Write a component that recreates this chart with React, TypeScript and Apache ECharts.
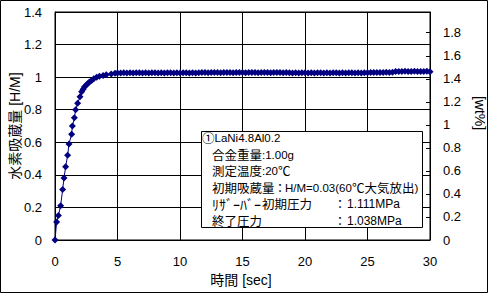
import React, { useEffect, useRef } from "react";
import * as echarts from "echarts";

// Rising part of the absorption curve
const riseTime = [0, 0.13, 0.27, 0.45, 0.61, 0.72, 0.85, 1.01, 1.12, 1.33, 1.39, 1.55, 1.65, 1.81, 2.0, 2.13, 2.25, 2.35, 2.48, 2.61, 2.75, 2.93, 3.1, 3.33, 3.55, 3.85, 4.1, 4.5, 4.8];
const riseHM = [0, 0.11, 0.15, 0.21, 0.31, 0.38, 0.45, 0.52, 0.59, 0.65, 0.7, 0.75, 0.8, 0.84, 0.88, 0.91, 0.925, 0.94, 0.95, 0.96, 0.97, 0.98, 0.99, 1.0, 1.005, 1.01, 1.015, 1.02, 1.024];

// Plateau part (sec)
const plateauTime = [5, 5.25, 5.5, 5.75, 6, 6.25, 6.5, 6.75, 7, 7.25, 7.5, 7.75, 8, 8.25, 8.5, 8.75, 9, 9.25, 9.5, 9.75, 10, 10.25, 10.5, 10.75, 11, 11.25, 11.5, 11.75, 12, 12.25, 12.5, 12.75, 13, 13.25, 13.5, 13.75, 14, 14.25, 14.5, 14.75, 15, 15.25, 15.5, 15.75, 16, 16.25, 16.5, 16.75, 17, 17.25, 17.5, 17.75, 18, 18.25, 18.5, 18.75, 19, 19.25, 19.5, 19.75, 20, 20.25, 20.5, 20.75, 21, 21.25, 21.5, 21.75, 22, 22.25, 22.5, 22.75, 23, 23.25, 23.5, 23.75, 24, 24.25, 24.5, 24.75, 25, 25.25, 25.5, 25.75, 26, 26.25, 26.5, 26.75, 27, 27.25, 27.5, 27.75, 28, 28.25, 28.5, 28.75, 29, 29.25, 29.5, 29.75, 30];
const plateauHM = [
  1.025, 1.026, 1.027, 1.026, 1.027, 1.026, 1.027, 1.027, 1.026, 1.027, 1.026, 1.027, 1.027, 1.026, 1.027, 1.026, 1.027, 1.027, 1.026, 1.027, 1.026, 1.027, 1.027, 1.026, 1.027, 1.026, 1.027,
  1.028, 1.028, 1.027, 1.028, 1.028, 1.028, 1.027, 1.028, 1.028, 1.028, 1.027, 1.028, 1.028, 1.028, 1.027, 1.028, 1.028, 1.028, 1.027, 1.028, 1.028, 1.028, 1.027, 1.028, 1.028, 1.028, 1.027, 1.028,
  1.027, 1.026, 1.027, 1.026, 1.027, 1.027, 1.026, 1.027, 1.026, 1.027, 1.027, 1.026, 1.027, 1.026, 1.027, 1.027, 1.026, 1.027, 1.026, 1.027, 1.027, 1.026, 1.027, 1.026, 1.027, 1.027,
  1.028, 1.029, 1.028, 1.029, 1.029, 1.03, 1.029, 1.03,
  1.034, 1.035, 1.034, 1.036, 1.035, 1.034, 1.036, 1.035, 1.034, 1.035, 1.036, 1.033,
];

const xTitle = "時間 [sec]";
const yLeftTitle = "水素吸蔵量 [H/M]";
const yRightTitle = "[wt%]";
const leftMax = 1.4;
const rightMax = 1.98;

const NUM_FONT = '"Liberation Sans", "Noto Sans CJK JP", sans-serif';
const CJK_FONT = '"Noto Sans CJK JP", sans-serif';

// Annotation box text pieces: [text, x, y, fontSize, cjk?, align]
const notePieces: [string, number, number, number, boolean, string][] = [
  ["①", 202, 137.5, 12.5, true, "left"],
  ["LaNi4.8Al0.2", 214.5, 138, 11.5, false, "left"],
  ["合金重量", 212, 154, 12.5, true, "left"],
  [":1.00g", 262, 154.5, 11.5, false, "left"],
  ["測定温度", 212, 170.5, 12.5, true, "left"],
  [":20", 262, 171, 11.5, false, "left"],
  ["℃", 278, 170.5, 12.5, true, "left"],
  ["初期吸蔵量", 212, 187, 12.5, true, "left"],
  ["：", 280, 187, 12.5, true, "center"],
  ["H/M=0.03(60", 285, 187.5, 11.5, false, "left"],
  ["℃大気放出", 352, 187, 12.5, true, "left"],
  [")", 414.5, 187.5, 11.5, false, "left"],
  ["ﾘｻﾞｰﾊﾞｰ", 212, 203.5, 14, true, "left"],
  ["初期圧力", 262, 203.5, 12.5, true, "left"],
  ["：", 340, 203.5, 12.5, true, "center"],
  ["1.111MPa", 347, 204, 12, false, "left"],
  ["終了圧力", 212, 220, 12.5, true, "left"],
  ["：", 340, 220, 12.5, true, "center"],
  ["1.038MPa", 347, 220.5, 12, false, "left"],
];

export default function App() {
  const ref = useRef<HTMLDivElement>(null);
  useEffect(() => {
    if (!ref.current) return;
    const chart = echarts.init(ref.current, null, { renderer: "svg" });
    const data = riseTime.map((t, i) => [t, riseHM[i]]).concat(plateauTime.map((t, i) => [t, plateauHM[i]]));

    const graphics: any[] = [
      { type: "rect", z: 100, shape: { x: 0.5, y: 0.5, width: 487, height: 292 }, style: { fill: "none", stroke: "#000", lineWidth: 1 } },
      { type: "rect", z: 100, shape: { x: 201.5, y: 131.5, width: 221, height: 96 }, style: { fill: "#fff", stroke: "#000", lineWidth: 1 } },
      { type: "text", z: 101, x: 15, y: 126, rotation: Math.PI / 2, style: { text: yLeftTitle, fontSize: 14, fontFamily: NUM_FONT, fill: "#000", textAlign: "center", textVerticalAlign: "middle" } },
      { type: "text", z: 101, x: 480, y: 113, rotation: -Math.PI / 2, style: { text: yRightTitle, fontSize: 14, fontFamily: NUM_FONT, fill: "#000", textAlign: "center", textVerticalAlign: "middle" } },
      { type: "text", z: 101, x: 241, y: 280, style: { text: xTitle, fontSize: 14, fontFamily: NUM_FONT, fill: "#000", textAlign: "center", textVerticalAlign: "middle" } },
    ];
    notePieces.forEach(([text, x, y, size, cjk, align]) => {
      graphics.push({
        type: "text", z: 101, x, y,
        style: { text, fontSize: size, fontFamily: cjk ? CJK_FONT : NUM_FONT, fill: "#000", textAlign: align, textVerticalAlign: "middle" },
      });
    });

    chart.setOption({
      animation: false,
      backgroundColor: "#fff",
      grid: { left: 55, right: 70, top: 12, bottom: 60, show: true, borderColor: "#000", borderWidth: 1, backgroundColor: "#fff" },
      xAxis: {
        type: "value", min: 0, max: 30, interval: 5,
        axisLine: { show: true, lineStyle: { color: "#000", width: 1 } },
        axisTick: { show: false },
        splitLine: { show: true, lineStyle: { color: "#000", width: 1 } },
        axisLabel: { color: "#000", fontSize: 13, fontFamily: NUM_FONT, margin: 15 },
      },
      yAxis: [
        {
          type: "value", min: 0, max: leftMax, interval: 0.2, position: "left",
          axisLine: { show: true, lineStyle: { color: "#000", width: 1 } },
          axisTick: { show: false },
          splitLine: { show: true, lineStyle: { color: "#000", width: 1 } },
          axisLabel: { color: "#000", fontSize: 13, fontFamily: NUM_FONT, margin: 13 },
        },
        {
          type: "value", min: 0, max: rightMax, interval: 0.2, position: "right",
          axisLine: { show: true, lineStyle: { color: "#000", width: 1 } },
          axisTick: { show: true, inside: true, length: 4, lineStyle: { color: "#000", width: 1 } },
          splitLine: { show: false },
          axisLabel: { color: "#000", fontSize: 13, fontFamily: NUM_FONT, margin: 13, showMaxLabel: false },
        },
      ],
      series: [
        {
          type: "line", yAxisIndex: 0, data,
          symbol: "diamond", symbolSize: 7,
          lineStyle: { color: "#000080", width: 1 },
          itemStyle: { color: "#000080" },
        },
      ],
      graphic: graphics,
    });
    return () => chart.dispose();
  }, []);
  return <div ref={ref} style={{ position: "absolute", left: 0, top: 0, width: 500, height: 300, background: "#fff" }} />;
}
